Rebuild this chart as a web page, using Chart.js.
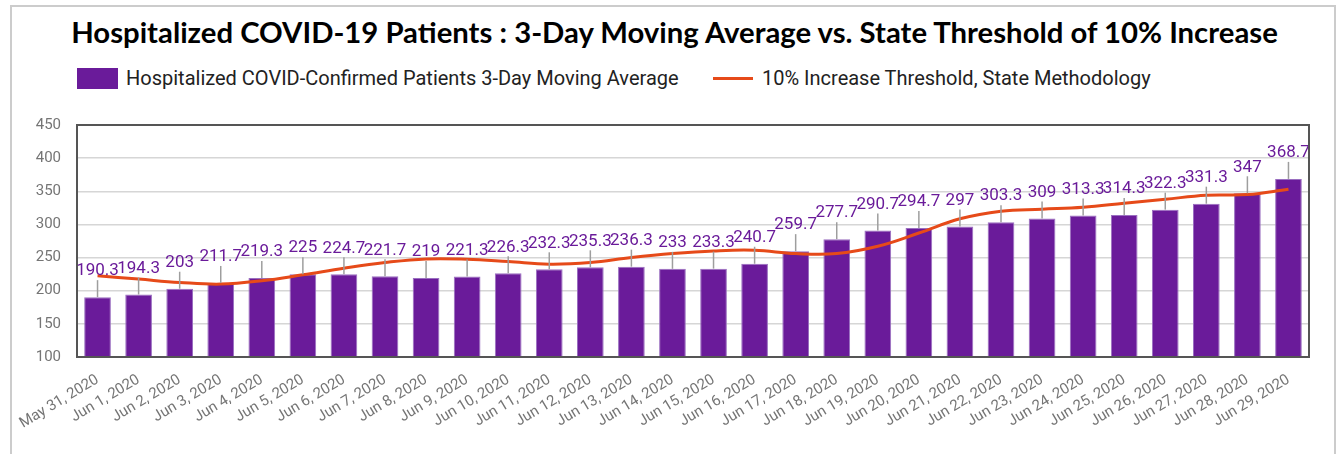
<!DOCTYPE html>
<html>
<head>
<meta charset="utf-8">
<title>Hospitalized COVID-19 Patients</title>
<script src="https://cdn.jsdelivr.net/npm/chart.js@4/dist/chart.umd.min.js"></script>
<style>
  html, body { margin: 0; padding: 0; background: #fff; width: 1338px; height: 454px; overflow: hidden; }
  .frame { position: absolute; left: 10px; top: 5px; width: 1322px; height: 470px; border: 2px solid #cccccc; }
  .title { position: absolute; left: 0; width: 1349px; top: 12px; text-align: center;
    font: bold 29.3px Lato, "Open Sans", sans-serif; color: #000; white-space: nowrap; line-height: 40px; }
  .legend-box { position: absolute; left: 77px; top: 68px; width: 41px; height: 21px; background: #6a1b9a; }
  .legend-line { position: absolute; left: 713px; top: 77px; width: 40px; height: 3px; background: #e64a19; }
  .legend-text { position: absolute; top: 66px; font: 20px Roboto, sans-serif; color: #222; white-space: nowrap; line-height: 24px; }
  #wrap { position: absolute; left: 0; top: 100px; width: 1338px; height: 354px; }
</style>
</head>
<body>
<div class="frame"></div>
<div class="title">Hospitalized COVID-19 Patients : 3-Day Moving Average vs. State Threshold of 10% Increase</div>
<div class="legend-box"></div>
<div class="legend-text" style="left:126px">Hospitalized COVID-Confirmed Patients 3-Day Moving Average</div>
<div class="legend-line"></div>
<div class="legend-text" style="left:762px">10% Increase Threshold, State Methodology</div>
<div id="wrap"><canvas id="theChart"></canvas></div>
<script>
"use strict";

// Chart data
const dates = [
  "May 31, 2020", "Jun 1, 2020", "Jun 2, 2020", "Jun 3, 2020", "Jun 4, 2020",
  "Jun 5, 2020", "Jun 6, 2020", "Jun 7, 2020", "Jun 8, 2020", "Jun 9, 2020",
  "Jun 10, 2020", "Jun 11, 2020", "Jun 12, 2020", "Jun 13, 2020", "Jun 14, 2020",
  "Jun 15, 2020", "Jun 16, 2020", "Jun 17, 2020", "Jun 18, 2020", "Jun 19, 2020",
  "Jun 20, 2020", "Jun 21, 2020", "Jun 22, 2020", "Jun 23, 2020", "Jun 24, 2020",
  "Jun 25, 2020", "Jun 26, 2020", "Jun 27, 2020", "Jun 28, 2020", "Jun 29, 2020"
];
const movingAvg = [
  190.3, 194.3, 203, 211.7, 219.3, 225, 224.7, 221.7, 219, 221.3,
  226.3, 232.3, 235.3, 236.3, 233, 233.3, 240.7, 259.7, 277.7, 290.7,
  294.7, 297, 303.3, 309, 313.3, 314.3, 322.3, 331.3, 347, 368.7
];
const threshold = [
  222.5, 217.5, 212.5, 210, 215, 224, 234, 242.5, 248, 247.5,
  244, 240, 242.5, 250, 256, 260, 261, 256, 256, 267,
  287, 308.5, 320, 323, 326, 332, 338, 344, 345, 353
];
const yTickValues = [100, 150, 200, 250, 300, 350, 400, 450];

const barColor = "#6a1b9a";
const lineColor = "#e64a19";
const axisText = "#757575";
const frameColor = "#555555";

// value labels with little leader lines above every bar
const barLabels = {
  id: "barLabels",
  afterDatasetsDraw(chart) {
    const ctx = chart.ctx;
    const meta = chart.getDatasetMeta(0);
    ctx.save();
    ctx.font = "17px Roboto";
    ctx.textAlign = "center";
    ctx.textBaseline = "middle";
    meta.data.forEach((bar, i) => {
      ctx.strokeStyle = "#9e9e9e";
      ctx.lineWidth = 1.5;
      ctx.beginPath();
      ctx.moveTo(bar.x, bar.y);
      ctx.lineTo(bar.x, bar.y - 17);
      ctx.stroke();
      ctx.fillStyle = barColor;
      ctx.fillText(String(movingAvg[i]), bar.x, bar.y - 26);
    });
    ctx.restore();
  }
};

// dark box round the plot area
const plotFrame = {
  id: "plotFrame",
  afterDatasetsDraw(chart) {
    const a = chart.chartArea;
    const ctx = chart.ctx;
    ctx.save();
    ctx.strokeStyle = frameColor;
    ctx.lineWidth = 2;
    ctx.strokeRect(a.left, a.top, a.right - a.left, a.bottom - a.top);
    ctx.restore();
  }
};

new Chart(document.getElementById("theChart"), {
  type: "bar",
  data: {
    labels: dates,
    datasets: [
      {
        type: "bar",
        label: "Hospitalized COVID-Confirmed Patients 3-Day Moving Average",
        data: movingAvg,
        backgroundColor: barColor,
        borderColor: "#9a6fc0",
        borderWidth: 1,
        barPercentage: 0.65,
        categoryPercentage: 1.0,
        order: 1
      },
      {
        type: "line",
        label: "10% Increase Threshold, State Methodology",
        data: threshold,
        borderColor: lineColor,
        borderWidth: 3,
        pointRadius: 0,
        tension: 0.4,
        fill: false,
        order: 0
      }
    ]
  },
  options: {
    responsive: true,
    maintainAspectRatio: false,
    animation: false,
    layout: { padding: { top: 22, right: 29, left: 0, bottom: 0 } },
    plugins: {
      legend: { display: false },
      tooltip: { enabled: false }
    },
    scales: {
      x: {
        grid: { display: false },
        border: { color: frameColor, width: 2 },
        ticks: {
          autoSkip: false,
          minRotation: 31,
          maxRotation: 31,
          padding: 6,
          color: axisText,
          font: { family: "Roboto", size: 15 }
        },
        afterFit: (s) => { s.height = 97; }
      },
      y: {
        min: 100,
        max: 450,
        afterBuildTicks: (s) => { s.ticks = yTickValues.map((v) => ({ value: v })); },
        grid: { color: "#d6d6d6", lineWidth: 1.5, drawTicks: false },
        border: { color: frameColor, width: 2 },
        ticks: {
          padding: 16,
          color: axisText,
          font: { family: "Roboto", size: 15 }
        },
        afterFit: (s) => { s.width = 77; }
      }
    }
  },
  plugins: [barLabels, plotFrame]
});
</script>
</body>
</html>
